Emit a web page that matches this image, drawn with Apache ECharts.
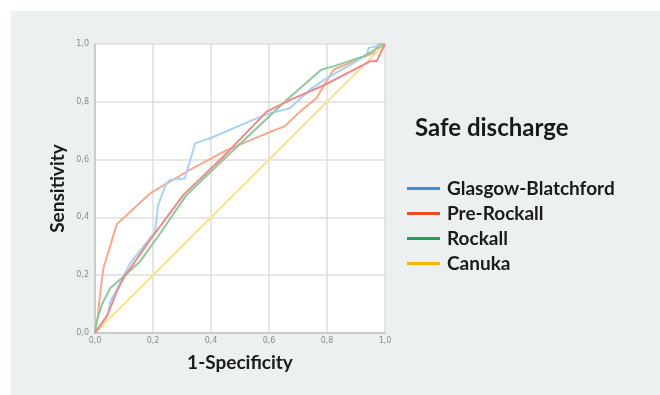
<!DOCTYPE html>
<html>
<head>
<meta charset="utf-8">
<script src="https://cdn.jsdelivr.net/npm/echarts@6/dist/echarts.min.js"></script>
<style>
html,body{margin:0;padding:0;background:#ffffff;}
#wrap{position:absolute;left:11px;top:11px;right:0;bottom:0;background:#edf0f1;}
#chart{position:absolute;left:0;top:0;width:660px;height:395px;}
</style>
</head>
<body>
<div id="wrap"></div>
<div id="chart"></div>
<script>
const titleText = 'Safe discharge';
const xName = '1-Specificity';
const yName = 'Sensitivity';
const tickValues = [0, 0.2, 0.4, 0.6, 0.8, 1.0];

const glasgowBlatchford = [[0,0],[0.029,0.045],[0.046,0.068],[0.052,0.108],[0.075,0.15],[0.12,0.24],[0.207,0.35],[0.218,0.443],[0.247,0.52],[0.26,0.53],[0.31,0.535],[0.345,0.656],[0.397,0.674],[0.569,0.748],[0.603,0.76],[0.672,0.778],[0.741,0.842],[0.799,0.882],[0.891,0.934],[0.937,0.963],[0.943,0.986],[0.96,0.99],[1,1]];
const preRockall = [[0,0],[0.04,0.056],[0.075,0.143],[0.098,0.19],[0.19,0.322],[0.305,0.478],[0.442,0.61],[0.592,0.766],[0.672,0.806],[0.793,0.859],[0.948,0.94],[0.971,0.94],[1,1]];
const rockall = [[0,0],[0.006,0.04],[0.023,0.097],[0.052,0.155],[0.098,0.195],[0.155,0.247],[0.213,0.328],[0.316,0.478],[0.466,0.622],[0.661,0.806],[0.78,0.911],[0.833,0.926],[0.925,0.957],[1,1]];
const canuka = [[0,0],[0.01,0.06],[0.017,0.13],[0.029,0.224],[0.075,0.376],[0.19,0.483],[0.316,0.558],[0.454,0.633],[0.592,0.691],[0.655,0.716],[0.707,0.766],[0.764,0.813],[0.822,0.911],[0.891,0.94],[0.96,0.969],[0.977,1],[1,1]];
const referenceLine = [[0,0],[1,1]];

const seriesNames = ['Glasgow-Blatchford','Pre-Rockall','Rockall','Canuka'];
const legendColors = ['#3b8fd9','#f04b24','#1e9e56','#f7b500'];
const lineColors = ['#a9d3f2','#ef8a8a','#8ec99c','#f8a98c'];

const fmt = v => (Math.round(v*10)/10).toFixed(1).replace('.', ',');
const chart = echarts.init(document.getElementById('chart'), null, {renderer:'canvas'});
const mk = (name, data, color, z) => ({
  name, type:'line', data, symbol:'none', z,
  lineStyle:{color, width:2}, itemStyle:{color}, emphasis:{disabled:true}
});
chart.setOption({
  animation:false,
  backgroundColor:'transparent',
  title:{text:titleText, left:415, top:116, padding:0,
    textStyle:{fontFamily:'Lato', fontWeight:'bold', fontSize:24, color:'#1a1a1a'}},
  legend:{
    orient:'vertical', left:407, top:179, padding:0, itemWidth:33, itemHeight:3, itemGap:6,
    icon:'rect', selectedMode:false,
    textStyle:{fontFamily:'Lato', fontWeight:'bold', fontSize:19, color:'#1a1a1a', padding:[0,0,0,2]},
    data: seriesNames.map((n,i)=>({name:n, itemStyle:{color:legendColors[i]}}))
  },
  grid:{left:95, top:44, width:290, height:289, backgroundColor:'#ffffff', show:true, borderWidth:0},
  xAxis:{type:'value', min:0, max:1, interval:0.2,
    name:xName, nameLocation:'middle', nameGap:20,
    nameTextStyle:{fontFamily:'Lato', fontWeight:'bold', fontSize:19, color:'#1a1a1a'},
    axisLine:{show:true, lineStyle:{color:'#c4c4c4', width:1.5}},
    axisTick:{show:false},
    axisLabel:{fontSize:8, color:'#8a8a8a', fontFamily:'DejaVu Sans', margin:4, formatter:fmt},
    splitLine:{show:true, lineStyle:{color:'#dedede', width:1.5}}
  },
  yAxis:{type:'value', min:0, max:1, interval:0.2,
    name:yName, nameLocation:'middle', nameGap:28,
    nameTextStyle:{fontFamily:'Lato', fontWeight:'bold', fontSize:19, color:'#1a1a1a'},
    axisLine:{show:true, lineStyle:{color:'#c4c4c4', width:1.5}},
    axisTick:{show:false},
    axisLabel:{fontSize:8, color:'#8a8a8a', fontFamily:'DejaVu Sans', margin:6, formatter:fmt},
    splitLine:{show:true, lineStyle:{color:'#dedede', width:1.5}}
  },
  series:[
    mk('Reference', referenceLine, '#fbe38c', 2),
    mk(seriesNames[3], canuka, lineColors[3], 3),
    mk(seriesNames[0], glasgowBlatchford, lineColors[0], 4),
    mk(seriesNames[2], rockall, lineColors[2], 5),
    mk(seriesNames[1], preRockall, lineColors[1], 6)
  ]
});
</script>
</body>
</html>
